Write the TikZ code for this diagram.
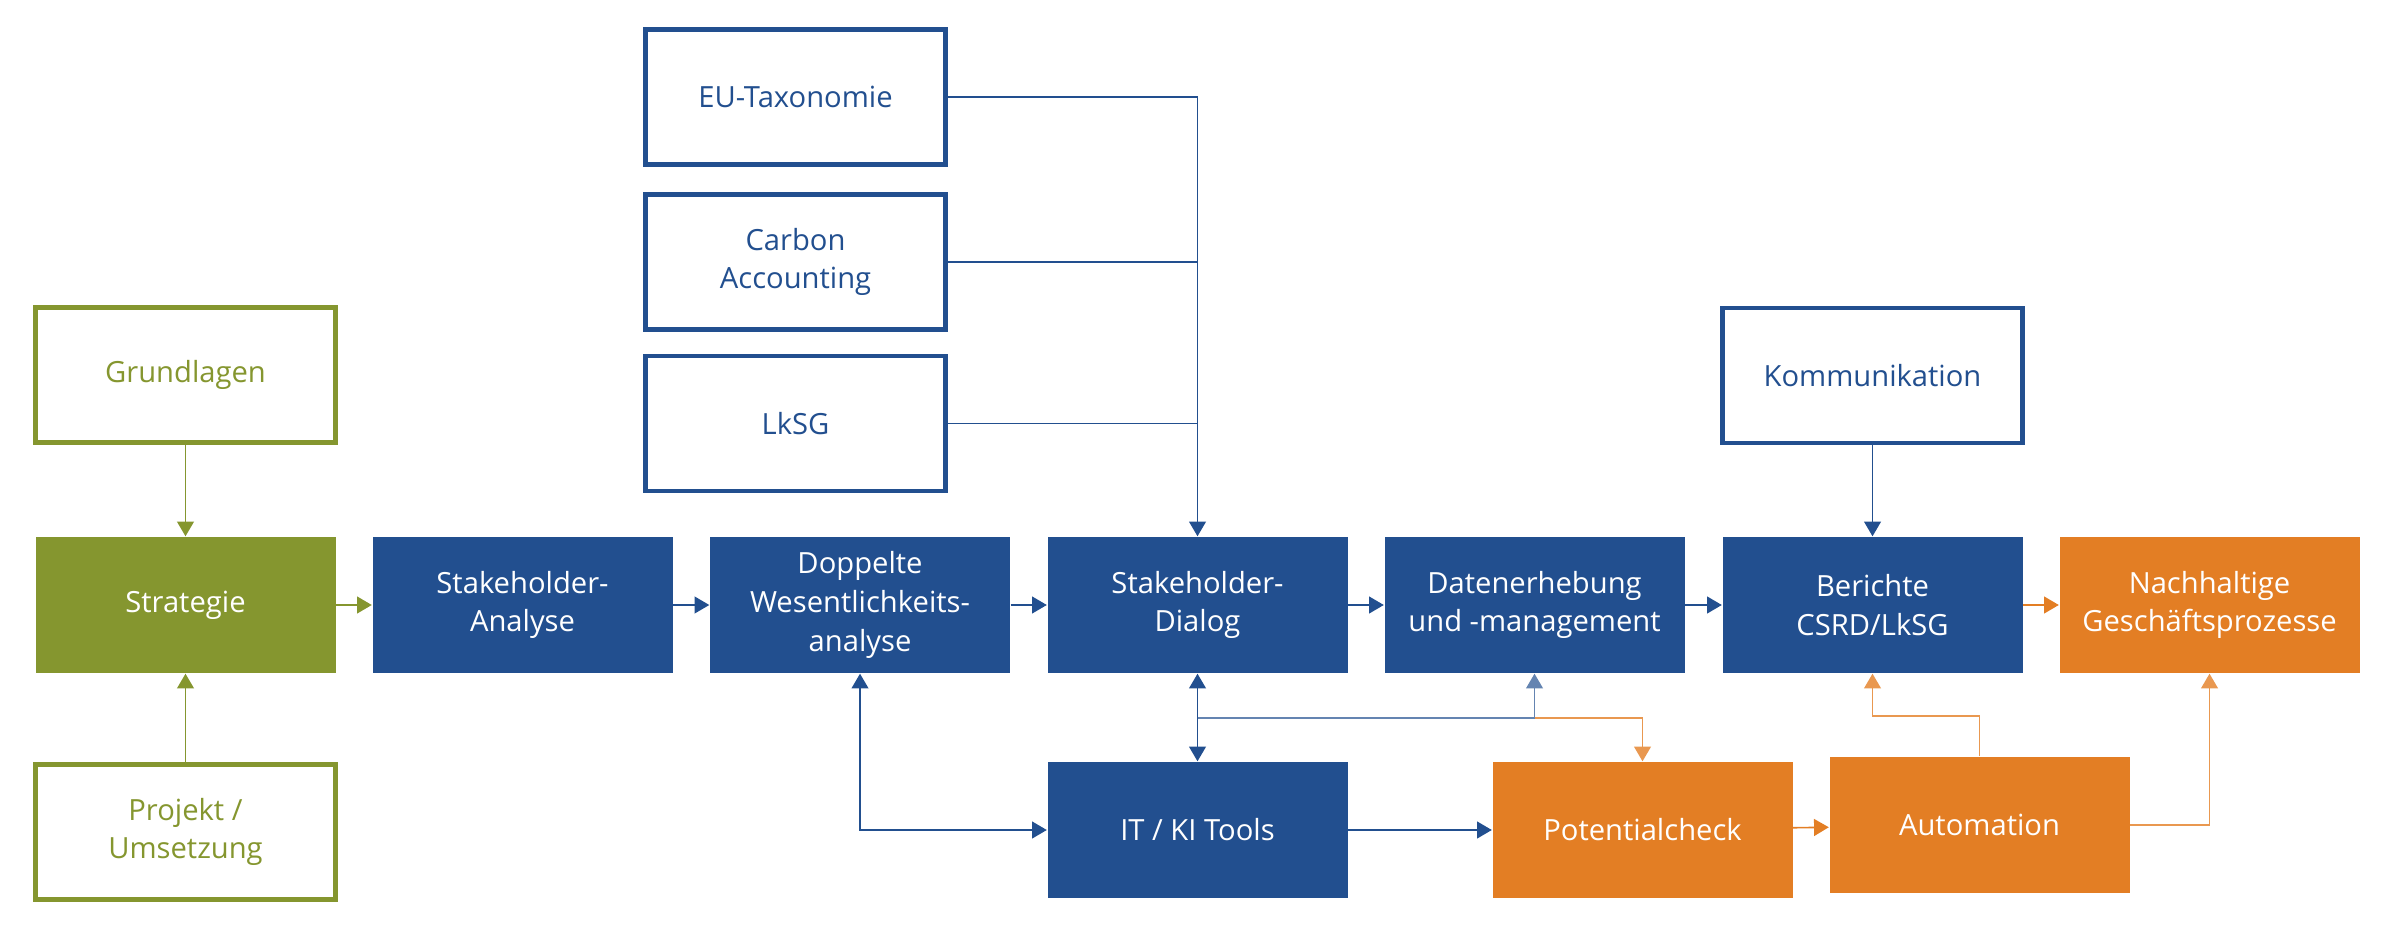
\documentclass[tikz,border=0pt]{standalone}
\usepackage{fontspec}
\setmainfont{Open Sans}
\usepackage{tikz}
\usetikzlibrary{arrows.meta}
\usetikzlibrary{positioning,calc}

\definecolor{kblue}{HTML}{224F8F}
\definecolor{kgreen}{HTML}{85962F}
\definecolor{korange}{HTML}{E37E24}

\tikzset{
  fillbox/.style={fill=#1,text=white,minimum width=3cm,minimum height=1.36cm,align=center,inner sep=2pt},
  linebox/.style={draw=#1,line width=1.4pt,fill=white,text=#1,minimum width=3cm,minimum height=1.35cm,align=center,inner sep=2pt},
  conn/.style={draw=#1,line width=0.45pt,-{Triangle[length=4.2pt,width=4.8pt]}},
  connboth/.style={draw=#1,line width=0.45pt,{Triangle[length=4.2pt,width=4.8pt]}-{Triangle[length=4.2pt,width=4.8pt]}},
}

\begin{document}
\begin{tikzpicture}[font=\fontsize{8.3}{11}\selectfont]
    \useasboundingbox (0,0) rectangle (23.88,9.32);

    % linke Spalte
    \node[linebox=kgreen] (grund) at (1.855,5.57) {Grundlagen};
    \node[fillbox=kgreen] (strat) at (1.855,3.27) {Strategie};
    \node[linebox=kgreen] (proj) at (1.855,1.00) {Projekt /\\Umsetzung};

    % Hauptzeile
    \node[fillbox=kblue] (sana) at (5.225,3.27) {Stakeholder-\\Analyse};
    \node[fillbox=kblue] (wesa) at (8.60,3.27) {Doppelte\\Wesentlichkeits-\\analyse};
    \node[fillbox=kblue] (sdia) at (11.975,3.27) {Stakeholder-\\Dialog};
    \node[fillbox=kblue] (daten) at (15.345,3.27) {Datenerhebung\\und -management};
    \node[fillbox=kblue] (ber) at (18.725,3.27) {Berichte\\CSRD/LkSG};
    \node[fillbox=korange] (nach) at (22.095,3.27) {Nachhaltige\\Geschäftsprozesse};

    % oben
    \node[linebox=kblue] (eutax) at (7.955,8.35) {EU-Taxonomie};
    \node[linebox=kblue] (carb) at (7.955,6.70) {Carbon\\Accounting};
    \node[linebox=kblue] (lksg) at (7.955,5.085) {LkSG};
    \node[linebox=kblue] (komm) at (18.725,5.565) {Kommunikation};

    % unten
    \node[fillbox=kblue] (itki) at (11.975,1.02) {IT / KI Tools};
    \node[fillbox=korange] (pot) at (16.425,1.02) {Potentialcheck};
    \node[fillbox=korange] (auto) at (19.795,1.07) {Automation};

    \coordinate (bus) at (11.975,2.14);
    \coordinate (busd) at (15.345,2.14);
    \coordinate (autoup) at (19.795,2.16);

    \draw[conn=kgreen] (grund) -- (strat);
    \draw[conn=kgreen] (proj) -- (strat);
    \draw[conn=kgreen] (strat) -- (sana);

    \draw[conn=kblue] (sana) -- (wesa);
    \draw[conn=kblue] (wesa) -- (sdia);
    \draw[conn=kblue] (sdia) -- (daten);
    \draw[conn=kblue] (daten) -- (ber);
    \draw[conn=korange] (ber) -- (nach);

    \draw[conn=kblue] (eutax.east) -| (sdia.north);
    \draw[kblue,line width=0.45pt] (carb.east) -- (carb.east -| sdia.north);
    \draw[kblue,line width=0.45pt] (lksg.east) -- (lksg.east -| sdia.north);
    \draw[conn=kblue] (komm) -- (ber);

    \draw[connboth=kblue] (wesa.south) |- (itki.west);
    \draw[connboth=kblue] (sdia.south) -- (itki.north);
    \draw[conn=kblue!70] (bus) -| (daten.south);
    \draw[conn=korange!80] (busd) -| (pot.north);
    \draw[conn=kblue] (itki) -- (pot);

    \draw[conn=korange] (pot) -- (auto);
    \draw[conn=korange!80] (auto.north) -- (autoup) -| (ber.south);
    \draw[conn=korange!80] (auto.east) -| (nach.south);
\end{tikzpicture}
\end{document}
